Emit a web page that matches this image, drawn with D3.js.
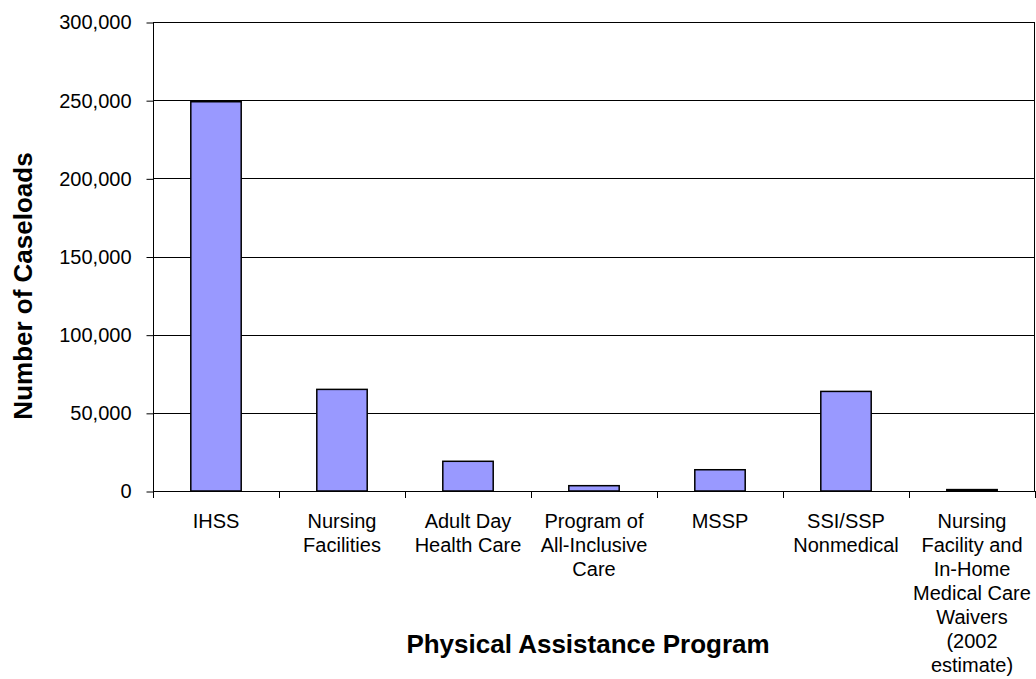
<!DOCTYPE html>
<html>
<head>
<meta charset="utf-8">
<script src="https://cdn.jsdelivr.net/npm/d3@7/dist/d3.min.js"></script>
<style>
  html, body { margin: 0; padding: 0; background: #fff; }
  svg { display: block; font-family: "Liberation Sans", Arial, sans-serif; }
</style>
</head>
<body>
<svg id="chart" width="1036" height="679"></svg>
<script>
// Caseloads by physical assistance program
const programs = [
  ["IHSS"],
  ["Nursing", "Facilities"],
  ["Adult Day", "Health Care"],
  ["Program of", "All-Inclusive", "Care"],
  ["MSSP"],
  ["SSI/SSP", "Nonmedical"],
  ["Nursing", "Facility and", "In-Home", "Medical Care", "Waivers", "(2002", "estimate)"]
];
const caseloads = [249000, 65000, 19000, 3400, 13600, 63700, 900];
const yTicks = [0, 50000, 100000, 150000, 200000, 250000, 300000];

const svg = d3.select("#chart");
const m = { left: 153, right: 1035, top: 22, bottom: 491 };

const keys = programs.map((p, i) => i);
const x = d3.scaleBand().domain(keys).range([m.left, m.right]).paddingInner(0.6).paddingOuter(0.3);
const band = (m.right - m.left) / keys.length;
const y = d3.scaleLinear().domain([0, 300000]).range([m.bottom, m.top]);
const fmt = d3.format(",");

// horizontal gridlines
svg.append("g")
  .selectAll("line")
  .data(yTicks.filter(d => d > 0))
  .join("line")
  .attr("x1", m.left).attr("x2", m.right)
  .attr("y1", d => Math.round(y(d)) + 0.5).attr("y2", d => Math.round(y(d)) + 0.5)
  .attr("stroke", "#000").attr("stroke-width", 1);

// right border of plot area
svg.append("line")
  .attr("x1", m.right - 0.5).attr("x2", m.right - 0.5)
  .attr("y1", m.top).attr("y2", m.bottom)
  .attr("stroke", "#000");

// bars
svg.append("g")
  .selectAll("rect")
  .data(caseloads)
  .join("rect")
  .attr("x", (d, i) => x(i))
  .attr("width", x.bandwidth())
  .attr("y", d => y(d))
  .attr("height", d => m.bottom - y(d))
  .attr("fill", "#9999FF")
  .attr("stroke", "#000")
  .attr("stroke-width", 1.5);

// y axis
const yAxis = d3.axisLeft(y).tickValues(yTicks).tickFormat(d => fmt(d)).tickSize(7).tickPadding(15);
const gy = svg.append("g").attr("transform", `translate(${m.left + 0.5},0.5)`).call(yAxis);
gy.select(".domain").attr("stroke", "#000").attr("d", `M0,${m.top}V${m.bottom}`);
gy.selectAll(".tick line").attr("stroke", "#000");
gy.selectAll(".tick text").attr("font-size", 20).attr("fill", "#000")
  .attr("font-family", "'Liberation Sans', Arial, sans-serif");

// x axis baseline and category separators
svg.append("line")
  .attr("x1", m.left).attr("x2", m.right)
  .attr("y1", m.bottom + 0.5).attr("y2", m.bottom + 0.5)
  .attr("stroke", "#000");
svg.append("g")
  .selectAll("line")
  .data(d3.range(keys.length + 1))
  .join("line")
  .attr("x1", i => Math.round(m.left + i * band) + 0.5)
  .attr("x2", i => Math.round(m.left + i * band) + 0.5)
  .attr("y1", m.bottom).attr("y2", m.bottom + 7)
  .attr("stroke", "#000");

// category labels
const lbl = svg.append("g")
  .selectAll("text")
  .data(programs)
  .join("text")
  .attr("text-anchor", "middle")
  .attr("font-size", 20)
  .attr("fill", "#000");
lbl.each(function (lines, i) {
  const cx = x(i) + x.bandwidth() / 2;
  d3.select(this).selectAll("tspan")
    .data(lines)
    .join("tspan")
    .attr("x", cx)
    .attr("y", (d, j) => 528 + j * 24)
    .text(d => d);
});

// axis titles
svg.append("text")
  .attr("transform", "translate(32,286) rotate(-90)")
  .attr("text-anchor", "middle")
  .attr("font-size", 26).attr("font-weight", "bold")
  .text("Number of Caseloads");

svg.append("text")
  .attr("x", 588).attr("y", 653)
  .attr("text-anchor", "middle")
  .attr("font-size", 26).attr("font-weight", "bold")
  .text("Physical Assistance Program");
</script>
</body>
</html>
